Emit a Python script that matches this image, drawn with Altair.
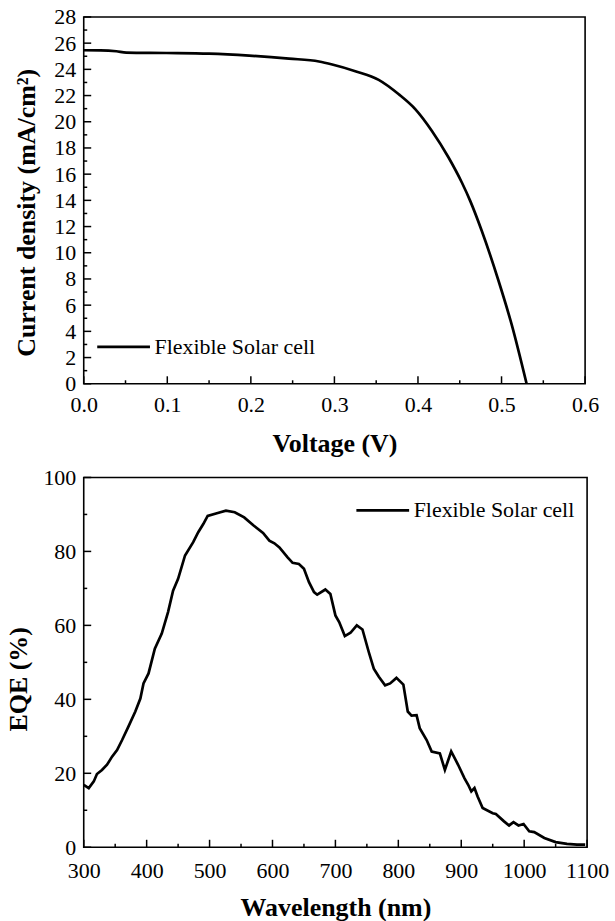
import altair as alt
import pandas as pd

# ---- J-V curve (top panel) ----
voltage = [0.0, 0.02, 0.039, 0.051, 0.099, 0.150, 0.198, 0.2457, 0.2815, 0.2974,
           0.325, 0.353, 0.377, 0.397, 0.4167, 0.4366, 0.4525, 0.4625, 0.4763,
           0.4962, 0.512, 0.530]
current = [25.46, 25.45, 25.38, 25.28, 25.25, 25.2, 25.05, 24.82, 24.6, 24.37,
           23.86, 23.2, 22.1, 20.95, 19.3, 17.27, 15.36, 13.96, 11.68,
           7.9, 4.55, 0.0]

# ---- EQE spectrum (bottom panel) ----
wavelength = [300, 308, 316, 321, 329, 337, 345, 353, 361, 371, 382, 390, 395, 403,
              413, 424, 434, 442, 450, 461, 474, 482, 490, 497, 513, 526, 540, 555,
              570, 585, 595, 603, 611, 624, 632, 642, 650, 658, 666, 671, 684, 692,
              700, 706, 715, 724, 734, 743, 753, 761, 769, 779, 787, 797, 808, 815,
              821, 829, 834, 845, 853, 866, 874, 884, 895, 905, 911, 916, 921, 926,
              934, 950, 955, 968, 976, 983, 991, 999, 1008, 1016, 1032, 1050, 1068,
              1084, 1097]
eqe = [16.9, 16.0, 17.8, 19.8, 20.9, 22.3, 24.5, 26.3, 29.0, 32.6, 36.7, 40.2, 44.3, 47.0,
       53.7, 57.8, 63.6, 69.4, 72.6, 78.9, 82.5, 85.2, 87.4, 89.6, 90.4, 91.0, 90.6, 89.2,
       87.0, 85.0, 82.9, 82.2, 81.1, 78.4, 76.9, 76.6, 75.3, 71.7, 69.0, 68.3, 69.7, 68.5,
       62.7, 60.9, 57.1, 58.0, 60.0, 58.9, 52.8, 48.3, 46.1, 43.8, 44.3, 45.8, 44.0, 36.7,
       35.6, 35.7, 32.2, 29.0, 25.9, 25.4, 20.9, 25.9, 22.3, 18.7, 16.9, 15.1, 16.0, 13.7,
       10.6, 9.2, 9.0, 7.0, 5.9, 6.8, 5.9, 6.3, 4.3, 4.1, 2.5, 1.4, 0.9,
       0.7, 0.7]

series_name = "Flexible Solar cell"

jv_x_labels = [0.0, 0.1, 0.2, 0.3, 0.4, 0.5, 0.6]
jv_x_minor = [0.05, 0.15, 0.25, 0.35, 0.45, 0.55]
jv_y_labels = list(range(0, 29, 2))
jv_y_minor = list(range(1, 28, 2))

eqe_x_labels = list(range(300, 1101, 100))
eqe_x_minor = list(range(350, 1100, 100))
eqe_y_labels = [0, 20, 40, 60, 80, 100]
eqe_y_minor = [10, 30, 50, 70, 90]

FONT = "Liberation Serif"
MAJOR_LEN = 7.5
MINOR_LEN = 3.5

jv_df = pd.DataFrame({"V": voltage, "J": current, "series": series_name})
eqe_df = pd.DataFrame({"wl": wavelength, "eqe": eqe, "series": series_name})


def panel(df, xf, yf, xdom, ydom, xlabels, xminor, ylabels, yminor,
          xtitle, ytitle, w, h, lx, ly, xfmt, interp, ytp, ytitle_y, xlp, xtp):
    xs = alt.Scale(domain=xdom, nice=False, zero=False)
    ys = alt.Scale(domain=ydom, nice=False, zero=False)
    main = alt.Chart(df).mark_line(strokeWidth=2.7, interpolate=interp).encode(
        x=alt.X(f"{xf}:Q", scale=xs,
                axis=alt.Axis(orient="bottom", values=xlabels, format=xfmt,
                              ticks=False, tickSize=0, domain=False,
                              labelOverlap=False, labelFlush=False,
                              labelPadding=xlp, title=xtitle, titlePadding=xtp)),
        y=alt.Y(f"{yf}:Q", scale=ys,
                axis=alt.Axis(orient="left", values=ylabels, format="d",
                              ticks=False, tickSize=0, domain=False,
                              labelOverlap=False, labelFlush=False,
                              labelPadding=8, title=ytitle, titlePadding=ytp,
                              titleY=ytitle_y)),
        color=alt.Color("series:N", scale=alt.Scale(range=["black"]),
                        legend=alt.Legend(orient="none", legendX=lx, legendY=ly,
                                          title=None, symbolType="stroke",
                                          symbolSize=2800, symbolStrokeWidth=2.7,
                                          labelFont=FONT, labelFontSize=22,
                                          labelColor="black", labelOffset=3,
                                          labelLimit=400)),
    )

    def xticks(vals, length):
        return alt.Chart(pd.DataFrame({"t": vals})).mark_rule(
            color="black", strokeWidth=1.5).encode(
            x=alt.X("t:Q", scale=xs, axis=None),
            y=alt.value(h), y2=alt.value(h - length))

    def yticks(vals, length):
        return alt.Chart(pd.DataFrame({"t": vals})).mark_rule(
            color="black", strokeWidth=1.5).encode(
            y=alt.Y("t:Q", scale=ys, axis=None),
            x=alt.value(0), x2=alt.value(length))

    return (alt.layer(main,
                      xticks(xlabels, MAJOR_LEN), xticks(xminor, MINOR_LEN),
                      yticks(ylabels, MAJOR_LEN), yticks(yminor, MINOR_LEN))
            .resolve_axis(x="independent", y="independent")
            .properties(width=w, height=h))


top = panel(jv_df, "V", "J", [0, 0.6], [0, 28], jv_x_labels, jv_x_minor,
            jv_y_labels, jv_y_minor, "Voltage (V)", "Current density (mA/cm²)",
            503, 368, 12, 303, ".1f", "monotone", 14, 196, 11, 15)
bottom = panel(eqe_df, "wl", "eqe", [300, 1100], [0, 100], eqe_x_labels, eqe_x_minor,
               eqe_y_labels, eqe_y_minor, "Wavelength (nm)", "EQE (%)",
               505, 371, 272, 5, "d", "linear", 11, 202, 13, 13)

chart = (alt.vconcat(top, bottom, spacing=94, bounds="flush")
         .resolve_scale(color="independent")
         .resolve_legend(color="independent")
         .properties(padding={"left": 5, "top": 3.5, "right": 5, "bottom": 5})
         .configure(font=FONT)
         .configure_view(stroke="black", strokeWidth=1.6)
         .configure_axis(grid=False, labelFont=FONT, labelFontSize=22,
                         labelColor="black", titleFont=FONT, titleFontSize=26,
                         titleFontWeight="bold", titleColor="black"))

chart.save("out.html", embed_options={"renderer": "svg", "actions": False})
